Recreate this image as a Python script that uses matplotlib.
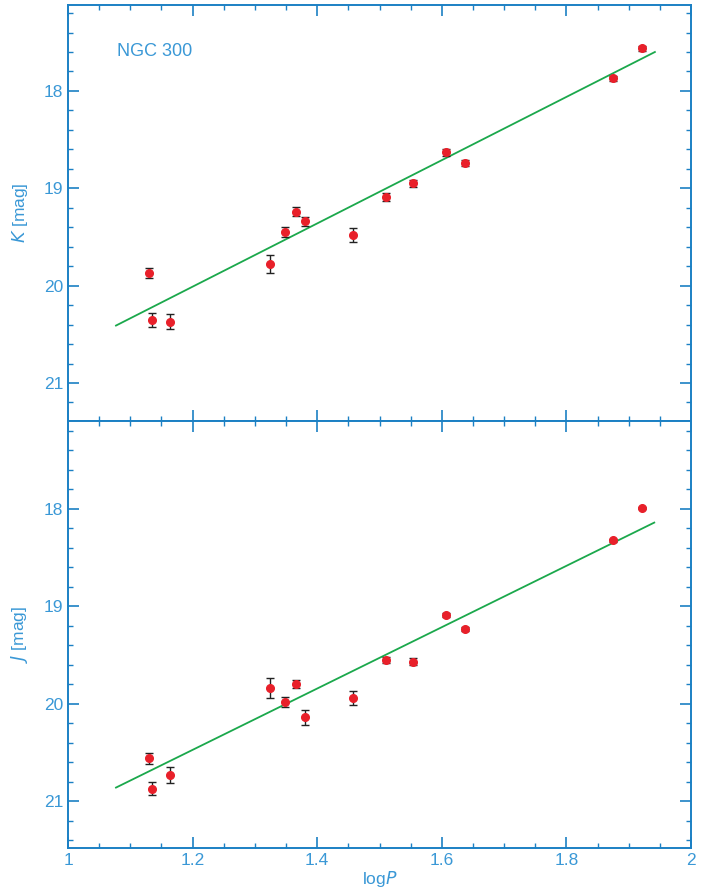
import numpy as np
import matplotlib
matplotlib.use("Agg")
import matplotlib.pyplot as plt
from matplotlib.ticker import MultipleLocator

# log period of the Cepheids
logP = [1.130, 1.135, 1.164, 1.325, 1.348, 1.366, 1.381, 1.457,
        1.511, 1.553, 1.607, 1.637, 1.874, 1.921]

# K band
K_mag = [19.87, 20.35, 20.37, 19.78, 19.45, 19.24, 19.34, 19.48,
         19.09, 18.95, 18.63, 18.74, 17.87, 17.56]
K_err = [0.055, 0.07, 0.08, 0.09, 0.05, 0.045, 0.05, 0.07,
         0.045, 0.04, 0.035, 0.03, 0.025, 0.025]
K_fit_x = [1.077, 1.942]
K_fit_y = [20.41, 17.60]

# J band
J_mag = [20.56, 20.87, 20.73, 19.84, 19.98, 19.80, 20.14, 19.94,
         19.55, 19.57, 19.09, 19.23, 18.32, 17.99]
J_err = [0.06, 0.07, 0.085, 0.10, 0.05, 0.04, 0.075, 0.07,
         0.03, 0.035, 0.02, 0.02, 0.015, 0.015]
J_fit_x = [1.077, 1.941]
J_fit_y = [20.86, 18.14]

spine_col = "#1b80c4"
text_col = "#3a98d6"
red = "#e8202a"
green = "#1ba84c"

plt.rcParams["font.family"] = ["Liberation Sans", "DejaVu Sans"]

fig = plt.figure(figsize=(7.07, 8.90), dpi=100)
ax1 = fig.add_axes([0.0962, 0.527, 0.8812, 0.4674])
ax2 = fig.add_axes([0.0962, 0.0472, 0.8812, 0.4798])

panels = [
    (ax1, K_mag, K_err, K_fit_x, K_fit_y, (21.39, 17.117), "$K$ [mag]"),
    (ax2, J_mag, J_err, J_fit_x, J_fit_y, (21.48, 17.097), "$J$ [mag]"),
]

for ax, mag, err, fx, fy, ylim, ylab in panels:
    ax.plot(fx, fy, color=green, lw=1.3, zorder=2)
    ax.errorbar(logP, mag, yerr=err, fmt="none", ecolor="#222222",
                elinewidth=1.0, capsize=3, capthick=1.0, zorder=3)
    ax.plot(logP, mag, "o", color=red, ms=5.5, zorder=4)
    ax.set_xlim(1, 2)
    ax.set_ylim(*ylim)
    ax.xaxis.set_major_locator(MultipleLocator(0.2))
    ax.xaxis.set_minor_locator(MultipleLocator(0.05))
    ax.yaxis.set_major_locator(MultipleLocator(1))
    ax.yaxis.set_minor_locator(MultipleLocator(0.2))
    ax.tick_params(which="both", direction="in", top=True, right=True,
                   color=spine_col, labelcolor=text_col, labelsize=12.5)
    ax.tick_params(which="major", length=8, width=1.2)
    ax.tick_params(which="minor", length=3.8, width=1.0)
    for s in ax.spines.values():
        s.set_color(spine_col)
        s.set_linewidth(1.4)
    ax.set_ylabel(ylab, color=text_col, fontsize=12.5, labelpad=10)
    ax.yaxis.set_major_formatter(matplotlib.ticker.FormatStrFormatter("%d"))

ax1.tick_params(labelbottom=False)
ax1.text(0.078, 0.877, "NGC 300", transform=ax1.transAxes, color=text_col,
         fontsize=13)
ax2.set_xticks([1, 1.2, 1.4, 1.6, 1.8, 2])
ax2.set_xticklabels(["1", "1.2", "1.4", "1.6", "1.8", "2"])
ax2.set_xlabel("log$P$", color=text_col, fontsize=12.5, labelpad=1)

fig.savefig("out.png", dpi=100)
